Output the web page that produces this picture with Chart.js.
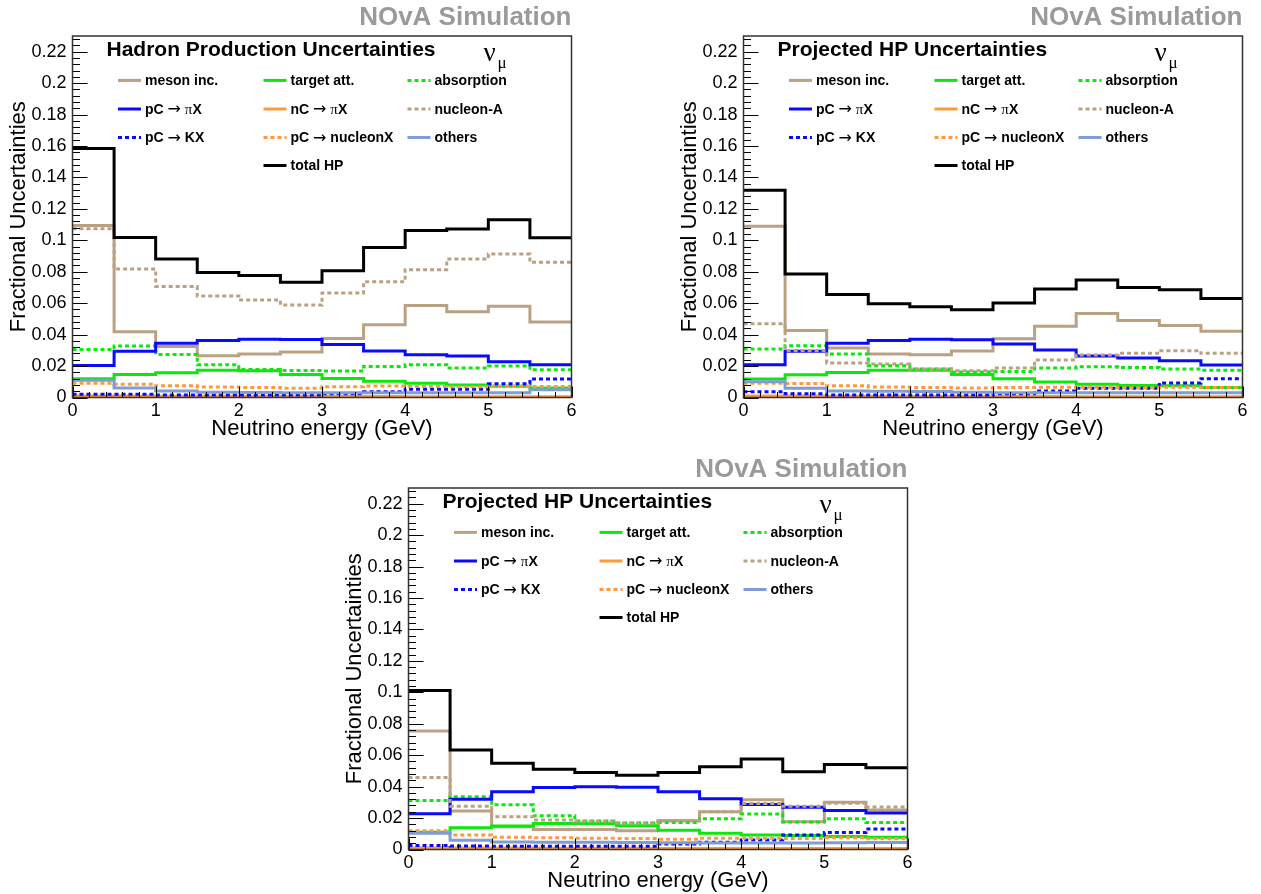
<!DOCTYPE html>
<html>
<head>
<meta charset="utf-8">
<script src="https://cdn.jsdelivr.net/npm/chart.js@4.4.1/dist/chart.umd.min.js"></script>
<style>
  body { margin: 0; background: #fff; width: 1261px; height: 894px; overflow: hidden; position: relative; }
  canvas { position: absolute; }
</style>
</head>
<body>
<canvas id="panel-1" width="600" height="442" style="left:0px;top:0px"></canvas>
<canvas id="panel-2" width="600" height="442" style="left:671px;top:0px"></canvas>
<canvas id="panel-3" width="600" height="442" style="left:336px;top:452px"></canvas>
<script>
// bin edges in GeV (12 bins of 0.5 GeV)
const binEdges = [0, 0.5, 1, 1.5, 2, 2.5, 3, 3.5, 4, 4.5, 5, 5.5, 6];
const xTicks = [0, 1, 2, 3, 4, 5, 6];
const yTicks = [0, 0.02, 0.04, 0.06, 0.08, 0.1, 0.12, 0.14, 0.16, 0.18, 0.2, 0.22];

// panel 1: Hadron Production Uncertainties
const p1MesonInc   = [0.1095, 0.0418, 0.0324, 0.0266, 0.0277, 0.0290, 0.0375, 0.0463, 0.0585, 0.0546, 0.0580, 0.0480];
const p1TargetAtt  = [0.0119, 0.0146, 0.0157, 0.0174, 0.0170, 0.0146, 0.0121, 0.0104, 0.0091, 0.0080, 0.0072, 0.0061];
const p1Absorption = [0.0306, 0.0328, 0.0274, 0.0208, 0.0178, 0.0172, 0.0169, 0.0197, 0.0208, 0.0187, 0.0200, 0.0176];
const p1PcPi       = [0.0204, 0.0294, 0.0345, 0.0362, 0.0370, 0.0369, 0.0338, 0.0296, 0.0272, 0.0264, 0.0228, 0.0208];
const p1NcPi       = [0.0010, 0.0010, 0.0008, 0.0008, 0.0007, 0.0007, 0.0006, 0.0006, 0.0005, 0.0005, 0.0005, 0.0004];
const p1NucleonA   = [0.1074, 0.0817, 0.0706, 0.0646, 0.0620, 0.0589, 0.0665, 0.0736, 0.0813, 0.0881, 0.0913, 0.0860];
const p1PcK        = [0.0020, 0.0020, 0.0016, 0.0016, 0.0016, 0.0016, 0.0024, 0.0037, 0.0053, 0.0053, 0.0088, 0.0117];
const p1PcNucleon  = [0.0090, 0.0085, 0.0074, 0.0067, 0.0063, 0.0059, 0.0068, 0.0073, 0.0070, 0.0068, 0.0072, 0.0070];
const p1Others     = [0.0110, 0.0061, 0.0042, 0.0033, 0.0032, 0.0030, 0.0030, 0.0030, 0.0030, 0.0030, 0.0031, 0.0050];
const p1Total      = [0.1585, 0.1018, 0.0881, 0.0796, 0.0777, 0.0734, 0.0806, 0.0954, 0.1063, 0.1072, 0.1131, 0.1016];

// panel 2: Projected HP Uncertainties
const p2MesonInc   = [0.1089, 0.0426, 0.0315, 0.0277, 0.0272, 0.0296, 0.0373, 0.0454, 0.0535, 0.0490, 0.0458, 0.0422];
const p2TargetAtt  = [0.0117, 0.0144, 0.0159, 0.0174, 0.0174, 0.0147, 0.0120, 0.0099, 0.0085, 0.0076, 0.0074, 0.0063];
const p2Absorption = [0.0309, 0.0330, 0.0277, 0.0202, 0.0181, 0.0163, 0.0166, 0.0187, 0.0196, 0.0191, 0.0181, 0.0174];
const p2PcPi       = [0.0208, 0.0294, 0.0345, 0.0362, 0.0370, 0.0368, 0.0341, 0.0302, 0.0264, 0.0251, 0.0234, 0.0206];
const p2NcPi       = [0.0010, 0.0010, 0.0008, 0.0008, 0.0007, 0.0007, 0.0006, 0.0006, 0.0005, 0.0005, 0.0005, 0.0004];
const p2NucleonA   = [0.0469, 0.0298, 0.0219, 0.0213, 0.0181, 0.0170, 0.0187, 0.0238, 0.0270, 0.0281, 0.0298, 0.0281];
const p2PcK        = [0.0037, 0.0024, 0.0016, 0.0016, 0.0016, 0.0016, 0.0024, 0.0042, 0.0059, 0.0059, 0.0093, 0.0120];
const p2PcNucleon  = [0.0090, 0.0089, 0.0074, 0.0067, 0.0063, 0.0060, 0.0064, 0.0065, 0.0063, 0.0062, 0.0065, 0.0063];
const p2Others     = [0.0101, 0.0059, 0.0042, 0.0040, 0.0038, 0.0034, 0.0030, 0.0030, 0.0030, 0.0030, 0.0030, 0.0030];
const p2Total      = [0.1319, 0.0785, 0.0655, 0.0597, 0.0578, 0.0559, 0.0601, 0.0691, 0.0747, 0.0700, 0.0685, 0.0630];

// panel 3: Projected HP Uncertainties (bottom)
const p3MesonInc   = [0.0754, 0.0245, 0.0145, 0.0127, 0.0127, 0.0120, 0.0185, 0.0240, 0.0316, 0.0177, 0.0300, 0.0252];
const p3TargetAtt  = [0.0110, 0.0138, 0.0149, 0.0166, 0.0166, 0.0151, 0.0123, 0.0104, 0.0093, 0.0089, 0.0082, 0.0078];
const p3Absorption = [0.0312, 0.0336, 0.0284, 0.0215, 0.0181, 0.0168, 0.0172, 0.0196, 0.0226, 0.0175, 0.0196, 0.0172];
const p3PcPi       = [0.0228, 0.0320, 0.0368, 0.0394, 0.0400, 0.0396, 0.0367, 0.0323, 0.0286, 0.0269, 0.0248, 0.0233];
const p3NcPi       = [0.0010, 0.0010, 0.0009, 0.0008, 0.0008, 0.0008, 0.0007, 0.0007, 0.0007, 0.0006, 0.0006, 0.0006];
const p3NucleonA   = [0.0458, 0.0275, 0.0209, 0.0188, 0.0179, 0.0168, 0.0182, 0.0240, 0.0293, 0.0275, 0.0295, 0.0271];
const p3PcK        = [0.0025, 0.0022, 0.0021, 0.0021, 0.0020, 0.0020, 0.0035, 0.0046, 0.0061, 0.0093, 0.0108, 0.0130];
const p3PcNucleon  = [0.0120, 0.0093, 0.0078, 0.0074, 0.0071, 0.0070, 0.0066, 0.0072, 0.0072, 0.0070, 0.0074, 0.0069];
const p3Others     = [0.0104, 0.0059, 0.0048, 0.0046, 0.0046, 0.0045, 0.0043, 0.0042, 0.0042, 0.0042, 0.0043, 0.0044];
const p3Total      = [0.1011, 0.0633, 0.0548, 0.0511, 0.0490, 0.0473, 0.0490, 0.0526, 0.0576, 0.0494, 0.0541, 0.0520];

const seriesLabels = ['meson inc.', 'target att.', 'absorption', 'pC \u2192 \u03c0X', 'nC \u2192 \u03c0X',
  'nucleon-A', 'pC \u2192 KX', 'pC \u2192 nucleonX', 'others', 'total HP'];

const TAN = '#bba184', GREEN = '#0be80b', BLUE = '#0a0aff', ORANGE = '#ff9a3c', STEEL = '#7f9cd6';
const DOT = [4, 3];
const seriesStyle = [
  { color: TAN, dash: [] }, { color: GREEN, dash: [] }, { color: GREEN, dash: DOT },
  { color: BLUE, dash: [] }, { color: ORANGE, dash: [] }, { color: TAN, dash: DOT },
  { color: BLUE, dash: DOT }, { color: ORANGE, dash: DOT }, { color: STEEL, dash: [] },
  { color: '#000', dash: [] }
];

const SANS = '"Liberation Sans", Arial, Helvetica, sans-serif';
const SERIF = '"Liberation Serif", "Times New Roman", serif';

function histPoints(vals) {
  const pts = vals.map((v, i) => ({ x: binEdges[i], y: v }));
  pts.push({ x: binEdges[vals.length], y: vals[vals.length - 1] });
  return pts;
}

// draws text with the arrow and pi in non-bold fonts like ROOT's TLatex
function drawLabel(ctx, text, x, y) {
  for (const ch of text) {
    if (ch === '\u2192') ctx.font = '16px "DejaVu Sans", sans-serif';
    else if (ch === '\u03c0') ctx.font = '15px ' + SERIF;
    else ctx.font = 'bold 14px ' + SANS;
    ctx.fillText(ch, x, y);
    x += ctx.measureText(ch).width;
  }
}

const rootStyle = {
  id: 'rootStyle',
  afterDatasetsDraw(chart, args, opts) {
    const { ctx, chartArea: a, scales: { x, y } } = chart;
    ctx.save();
    // tick marks inside the frame
    ctx.strokeStyle = '#000';
    ctx.lineWidth = 1;
    ctx.beginPath();
    for (let i = 0; i <= 30; i++) {
      const px = Math.round(x.getPixelForValue(i * 0.2)) + 0.5;
      const len = i % 5 === 0 ? 11 : 5.5;
      ctx.moveTo(px, a.bottom);
      ctx.lineTo(px, a.bottom - len);
    }
    for (let i = 0; i * 0.004 <= y.max; i++) {
      const py = Math.round(y.getPixelForValue(i * 0.004)) + 0.5;
      const len = i % 5 === 0 ? 15 : 7.5;
      ctx.moveTo(a.left, py);
      ctx.lineTo(a.left + len, py);
    }
    ctx.stroke();
    // frame
    ctx.strokeStyle = '#333';
    ctx.lineWidth = 1.5;
    ctx.strokeRect(a.left, a.top, a.right - a.left, a.bottom - a.top);

    // NOvA Simulation label
    ctx.fillStyle = '#9a9a9a';
    ctx.font = 'bold 26px ' + SANS;
    ctx.textAlign = 'right';
    ctx.textBaseline = 'alphabetic';
    ctx.fillText('NOvA Simulation', a.right, a.top - 11);

    // panel title
    ctx.fillStyle = '#000';
    ctx.textAlign = 'left';
    ctx.font = 'bold 21px ' + SANS;
    ctx.fillText(opts.title, a.left + 34, a.top + 20);

    // nu_mu
    ctx.font = '27px ' + SERIF;
    ctx.fillText('\u03bd', a.left + 411, a.top + 25);
    ctx.font = '17px ' + SERIF;
    ctx.fillText('\u03bc', a.left + 425, a.top + 32);

    // legend
    const colLine = [45.5, 191, 335];
    const rowY = [44.4, 73, 101.5, 129.5];
    ctx.textBaseline = 'middle';
    chart.data.datasets.forEach((ds, i) => {
      const row = i < 9 ? Math.floor(i / 3) : 3;
      const col = i < 9 ? i % 3 : 1;
      const lx = a.left + colLine[col];
      const ly = a.top + rowY[row];
      ctx.strokeStyle = ds.borderColor;
      ctx.lineWidth = 3;
      ctx.setLineDash(ds.borderDash);
      ctx.beginPath();
      ctx.moveTo(lx, ly);
      ctx.lineTo(lx + 23, ly);
      ctx.stroke();
      ctx.setLineDash([]);
      ctx.fillStyle = '#000';
      drawLabel(ctx, ds.label, lx + 27, ly + 1);
    });
    ctx.restore();
  }
};

function makePanel(id, title, series) {
  const ctx = document.getElementById(id).getContext('2d');
  const datasets = series.map((vals, i) => ({
    label: seriesLabels[i],
    data: histPoints(vals),
    borderColor: seriesStyle[i].color,
    borderDash: seriesStyle[i].dash,
    borderWidth: 3,
    stepped: true,
    pointRadius: 0,
    fill: false,
    order: series.length - 1 - i
  }));
  return new Chart(ctx, {
    type: 'line',
    data: { datasets: datasets },
    options: {
      responsive: false,
      animation: false,
      layout: { padding: { left: 0, top: 36, right: 28.5, bottom: 0 } },
      plugins: {
        legend: { display: false },
        tooltip: { enabled: false },
        rootStyle: { title: title }
      },
      scales: {
        x: {
          type: 'linear',
          min: 0,
          max: 6,
          afterBuildTicks: s => { s.ticks = xTicks.map(v => ({ value: v })); },
          afterFit: s => { s.height = 44.5; },
          grid: { display: false, drawTicks: false },
          border: { display: false },
          ticks: { color: '#000', font: { family: SANS, size: 18 }, padding: 3, maxRotation: 0, autoSkip: false },
          title: { display: true, text: 'Neutrino energy (GeV)', color: '#000', font: { family: SANS, size: 22 }, padding: 0 }
        },
        y: {
          type: 'linear',
          min: 0,
          max: 0.23,
          afterBuildTicks: s => { s.ticks = yTicks.map(v => ({ value: v })); },
          afterFit: s => { s.width = 72.5; },
          grid: { display: false, drawTicks: false },
          border: { display: false },
          ticks: { color: '#000', font: { family: SANS, size: 18 }, padding: 6, autoSkip: false,
            callback: v => String(+v.toFixed(3)) },
          title: { display: true, text: 'Fractional Uncertainties', color: '#000', font: { family: SANS, size: 22 }, padding: { top: 6, bottom: 0 } }
        }
      }
    },
    plugins: [rootStyle]
  });
}

window.addEventListener('DOMContentLoaded', function () {
  makePanel('panel-1', 'Hadron Production Uncertainties',
    [p1MesonInc, p1TargetAtt, p1Absorption, p1PcPi, p1NcPi, p1NucleonA, p1PcK, p1PcNucleon, p1Others, p1Total]);
  makePanel('panel-2', 'Projected HP Uncertainties',
    [p2MesonInc, p2TargetAtt, p2Absorption, p2PcPi, p2NcPi, p2NucleonA, p2PcK, p2PcNucleon, p2Others, p2Total]);
  makePanel('panel-3', 'Projected HP Uncertainties',
    [p3MesonInc, p3TargetAtt, p3Absorption, p3PcPi, p3NcPi, p3NucleonA, p3PcK, p3PcNucleon, p3Others, p3Total]);
});
</script>
</body>
</html>
